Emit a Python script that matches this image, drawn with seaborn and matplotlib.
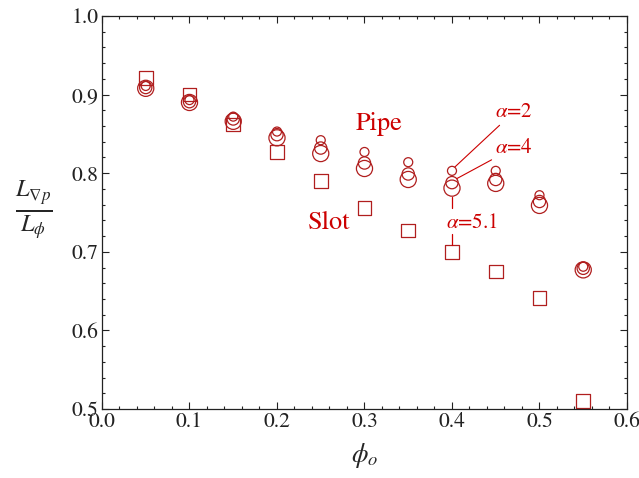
"""Ratio of pressure-gradient length to porosity length vs. phi_o, pipe and slot."""

import matplotlib
matplotlib.use('Agg')
import matplotlib.pyplot as plt
import numpy as np
import pandas as pd
import seaborn as sns

# ── data ──────────────────────────────────────────────────────────────────
phi_o = [0.05, 0.10, 0.15, 0.20, 0.25, 0.30, 0.35, 0.40, 0.45, 0.50, 0.55]
slot = [0.921, 0.900, 0.862, 0.827, 0.790, 0.756, 0.727, 0.700, 0.675, 0.641, 0.510]
pipe_a2 = [0.911, 0.893, 0.872, 0.853, 0.842, 0.827, 0.814, 0.803, 0.803, 0.772, 0.681]
pipe_a4 = [0.909, 0.891, 0.869, 0.849, 0.832, 0.813, 0.799, 0.788, 0.792, 0.764, 0.679]
pipe_a51 = [0.908, 0.890, 0.866, 0.845, 0.825, 0.806, 0.792, 0.781, 0.787, 0.759, 0.677]

MARK = '#b01e1e'
TEXT = '#cc0000'

sns.set_theme(style='ticks')
plt.rcParams['font.family'] = ['STIXGeneral', 'DejaVu Serif']
plt.rcParams['mathtext.fontset'] = 'stix'

df = pd.DataFrame({'phi': phi_o, 'slot': slot,
                   'a2': pipe_a2, 'a4': pipe_a4, 'a51': pipe_a51})

fig = plt.figure(figsize=(6.39, 4.78), dpi=100)
ax = fig.add_axes([0.1596, 0.1444, 0.8216, 0.8221])

sns.scatterplot(data=df, x='phi', y='slot', marker='s', s=95,
                facecolors='none', edgecolors=MARK, linewidth=0.9, ax=ax)
for col, size in [('a51', 135), ('a4', 78), ('a2', 42)]:
    sns.scatterplot(data=df, x='phi', y=col, marker='o', s=size,
                    facecolors='none', edgecolors=MARK, linewidth=0.9, ax=ax)

ax.set_xlim(0.0, 0.6)
ax.set_ylim(0.5, 1.0)
ax.set_xticks(np.arange(0.0, 0.61, 0.1))
ax.set_yticks(np.arange(0.5, 1.01, 0.1))
ax.set_xticks(np.arange(0.0, 0.601, 0.02), minor=True)
ax.set_yticks(np.arange(0.5, 1.001, 0.02), minor=True)
ax.xaxis.set_major_formatter(matplotlib.ticker.FormatStrFormatter('%.1f'))
ax.yaxis.set_major_formatter(matplotlib.ticker.FormatStrFormatter('%.1f'))
ax.tick_params(which='both', direction='in', top=True, right=True,
               colors='#222222', labelsize=15.5, width=0.8)
ax.tick_params(which='major', length=5)
ax.tick_params(which='minor', length=2.5)
ax.tick_params(axis='x', pad=2)
ax.tick_params(axis='y', pad=2.5)
for sp in ax.spines.values():
    sp.set_linewidth(0.9)
    sp.set_color('#222222')

ax.set_xlabel(r'$\phi_o$', fontsize=19, labelpad=7)
ax.set_ylabel(r'$\frac{L_{\nabla p}}{L_\phi}$', fontsize=25, rotation=0,
              ha='center', va='center')
ax.yaxis.set_label_coords(-0.13, 0.506)

# ── labels and annotations ────────────────────────────────────────────────
ax.text(0.290, 0.855, 'Pipe', color=TEXT, fontsize=19)
ax.text(0.235, 0.729, 'Slot', color=TEXT, fontsize=19)

line = dict(arrowstyle='-', color=TEXT, lw=0.8, shrinkA=0, shrinkB=0)
ax.annotate(r'$\alpha$=2', xy=(0.4034, 0.808), xytext=(0.449, 0.8715),
            color=TEXT, fontsize=15, arrowprops=line, va='baseline')
ax.annotate(r'$\alpha$=4', xy=(0.4053, 0.793), xytext=(0.449, 0.826),
            color=TEXT, fontsize=15, arrowprops=line, va='baseline')
ax.text(0.393, 0.730, r'$\alpha$=5.1', color=TEXT, fontsize=15)
ax.plot([0.4, 0.4], [0.770, 0.756], color=TEXT, lw=0.9)
ax.plot([0.4, 0.4], [0.723, 0.709], color=TEXT, lw=0.9)

fig.savefig('out.png', dpi=100)
